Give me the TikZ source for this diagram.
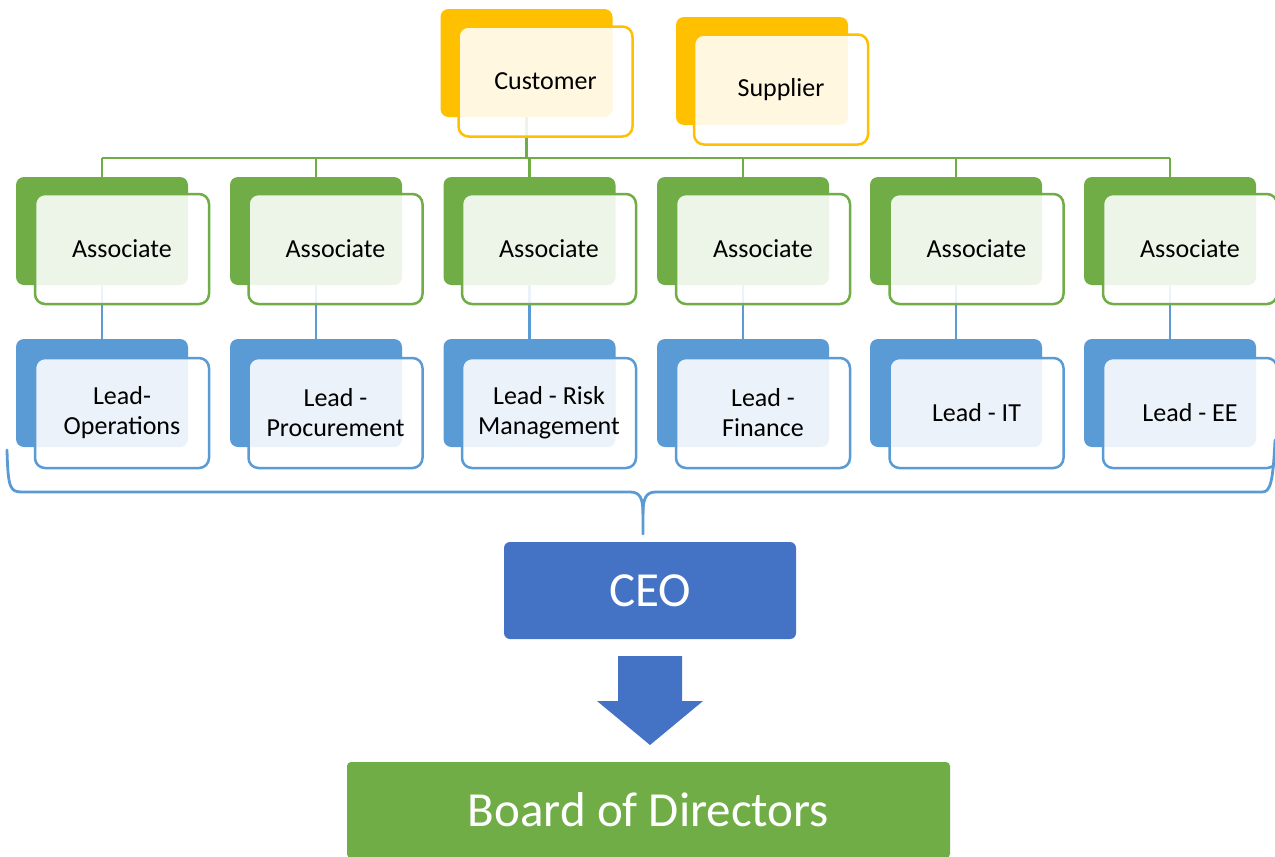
\documentclass[tikz,border=0pt]{standalone}
\usepackage{fontspec}
\setmainfont{Carlito}
\definecolor{grn}{HTML}{70AD47}
\definecolor{blu}{HTML}{5B9BD5}
\definecolor{ylw}{HTML}{FFC000}
\definecolor{ceoblue}{HTML}{4472C4}
\newcommand\cardtext{\fontsize{26}{30}\selectfont}
\newcommand\bigtext{\fontsize{49}{58}\selectfont}
\begin{document}
\begin{tikzpicture}[x=1pt,y=-1pt,
  back/.style={draw=none, fill=#1, rounded corners=8pt, minimum width=172pt,
    minimum height=108pt, inner sep=0pt},
  front/.style={draw=#1, line width=2.5pt, fill=white, fill opacity=0.88,
    text opacity=1, rounded corners=10pt, minimum width=174pt,
    minimum height=110pt, inner sep=0pt, align=center, font=\cardtext},
  link/.style={line width=2.7pt, draw=#1},
  bigbox/.style={fill=#1, draw=none, text=white, font=\bigtext, inner sep=0pt}]
\clip (0,0) rectangle (1275,857);
\fill[white] (0,0) rectangle (1275,857);

% back plates of the two partner cards
\node[back=ylw] (custb) at (526.5,63) {};
\node[back=ylw] (suppb) at (762,71) {};

% back plates of the associate and lead cards
\foreach \i/\cx in {1/102,2/316,3/529.5,4/743,5/956,6/1170} {
  \node[back=grn] (a\i b) at (\cx,231) {};
  \node[back=blu] (l\i b) at (\cx,393) {};
}

% green bus from the customer to every associate
\coordinate (busL) at (102,158);
\coordinate (busR) at (1170,158);
\draw[link=grn] (busL) -- (busR);
\draw[link=grn] (custb.south) -- (custb.south |- busL);
\foreach \i in {1,...,6} {
  \draw[link=grn] (a\i b.north |- busL) -- (a\i b.north);
  \draw[link=blu] (a\i b.south) -- (l\i b.north);
}

% front cards with their labels
\node[front=ylw] (cust) at (545.5,81.5) {Customer};
\node[front=ylw] (supp) at (781,89.5) {Supplier};
\foreach \i/\cx/\lab in {1/122/{Lead-\\Operations},
                        2/335.5/{Lead -\\Procurement},
                        3/549/{Lead - Risk\\Management},
                        4/763/{Lead -\\Finance},
                        5/976.5/{Lead - IT},
                        6/1190/{Lead - EE}} {
  \node[front=grn] (a\i) at (\cx,249) {Associate};
  \node[front=blu] (l\i) at (\cx,413) {\lab};
}

% curly brace gathering the leads
\draw[blu, line width=2.8pt, line cap=round, line join=round]
  (7,450) .. controls (8,488) and (10,492) .. (22,492)
  -- (630,492) .. controls (640,492) and (643,498) .. (643,514)
  -- (643,534);
\draw[blu, line width=2.8pt, line cap=round, line join=round]
  (643,514) .. controls (643,498) and (646,492) .. (656,492)
  -- (1262,492) .. controls (1270,492) and (1273,484) .. (1275,440);

% CEO, block arrow, board
\node[bigbox=ceoblue, rounded corners=6pt, minimum width=292pt,
  minimum height=97pt] (ceo) at (650,590.5) {CEO};
\fill[ceoblue] (618,656) -- (682,656) -- (682,701) -- (703,701)
  -- (650,745) -- (597,701) -- (618,701) -- cycle;
\node[bigbox=grn, rounded corners=4pt, minimum width=603pt,
  minimum height=96pt] (board) at (648.5,810) {Board of Directors};
\end{tikzpicture}
\end{document}
